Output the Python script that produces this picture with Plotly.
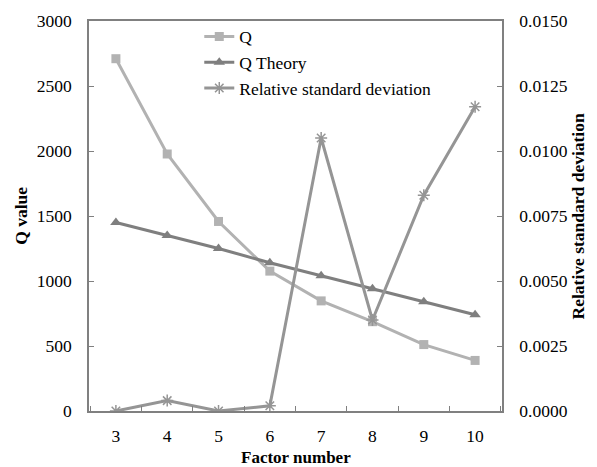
import plotly.graph_objects as go

factors = ["3", "4", "5", "6", "7", "8", "9", "10"]
q_values = [2710, 1977, 1458, 1076, 847, 687, 511, 389]
q_theory = [1450, 1350, 1250, 1140, 1040, 940, 840, 740]
rsd = [0.0000, 0.0004, 0.0000, 0.0002, 0.0105, 0.0035, 0.0083, 0.0117]

font = "Liberation Serif, Times New Roman, serif"
fs = 17.5

fig = go.Figure()
fig.add_trace(go.Scatter(x=factors, y=q_values, name="Q", mode="lines+markers",
                         line=dict(color="#b2b2b2", width=3),
                         marker=dict(symbol="square", size=9, color="#b2b2b2")))
fig.add_trace(go.Scatter(x=factors, y=q_theory, name="Q Theory", mode="lines+markers",
                         line=dict(color="#7f7f7f", width=3),
                         marker=dict(symbol="triangle-up", size=10, color="#7f7f7f")))
fig.add_trace(go.Scatter(x=factors, y=rsd, name="Relative standard deviation", mode="lines+markers",
                         yaxis="y2",
                         line=dict(color="#959595", width=3),
                         marker=dict(symbol="asterisk-open", size=10, color="#959595",
                                     line=dict(color="#959595", width=1.5))))

axis_common = dict(showline=True, linecolor="#808080", linewidth=1.5, ticks="inside",
                   ticklen=5, tickcolor="#808080", showgrid=False, zeroline=False,
                   automargin=False)

fig.update_layout(
    width=589, height=459,
    margin=dict(l=81, r=95, t=11, b=56),
    paper_bgcolor="white", plot_bgcolor="white",
    font=dict(family=font, size=fs, color="black"),
    showlegend=True,
    legend=dict(x=0.267, y=1.006, xanchor="left", yanchor="top", bgcolor="rgba(0,0,0,0)",
                font=dict(size=fs), tracegroupgap=0, itemwidth=30),
    xaxis=dict(type="category", mirror=True, tickson="boundaries", ticklabelstandoff=8,
               **axis_common),
    yaxis=dict(range=[0, 3000], dtick=500, ticklabelstandoff=12, **axis_common),
    yaxis2=dict(range=[0, 0.015], dtick=0.0025, tickformat=".4f", overlaying="y", side="right",
                ticklabelstandoff=12, **axis_common),
    annotations=[
        dict(text="<b>Factor number</b>", xref="paper", yref="paper", x=0.5, y=-0.119,
             xanchor="center", yanchor="middle", showarrow=False, font=dict(size=17)),
        dict(text="<b>Q value</b>", xref="paper", x=-0.165, yref="paper", y=0.5,
             textangle=-90, xanchor="center", yanchor="middle", showarrow=False,
             font=dict(size=fs)),
        dict(text="<b>Relative standard deviation</b>", xref="paper", x=1.185, yref="paper", y=0.5,
             textangle=-90, xanchor="center", yanchor="middle", showarrow=False,
             font=dict(size=fs)),
    ],
)

fig.write_html("out.html")
